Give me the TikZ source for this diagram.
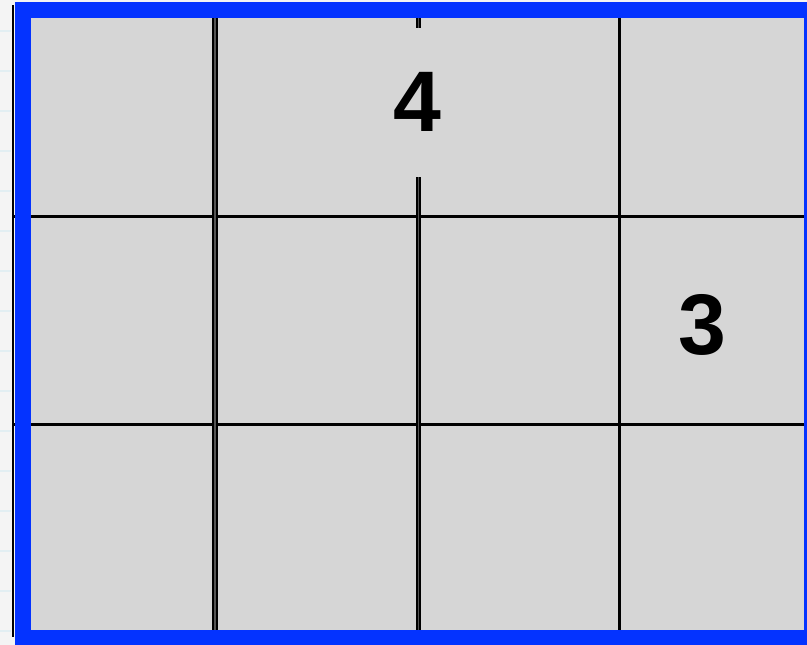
\documentclass[tikz,border=0pt]{standalone}
\usepackage{fontspec}
\setmainfont{Liberation Sans}
\definecolor{bg}{HTML}{F4F4F4}
\definecolor{cell}{HTML}{D6D6D6}
\definecolor{frame}{HTML}{0433FF}
\definecolor{faint}{HTML}{E2EEF2}
\definecolor{midgray}{HTML}{555555}
\begin{document}
\begin{tikzpicture}[x=1pt,y=-1pt,
  gridline/.style={black,line width=2.7pt},
  dblline/.style={black,line width=5.4pt},
  dblcore/.style={midgray,line width=1.1pt},
  num/.style={inner sep=0pt,font=\fontsize{86}{86}\selectfont\bfseries}]
\useasboundingbox (0,0) rectangle (807,645);
\clip (0,0) rectangle (807,645);
\fill[bg] (0,0) rectangle (807,645);
\foreach \k in {0,...,15} \draw[faint,line width=1.5pt] (0,31+40*\k) -- (11,31+40*\k);
\fill[cell] (23,9.5) rectangle (812,638);
\draw[black,line width=1.8pt] (13,5) -- (13,636.7);
% horizontal grid lines
\draw[gridline] (12,216.7) -- (807,216.7);
\draw[gridline] (12,424.2) -- (807,424.2);
% vertical grid lines
\draw[dblline] (215,10) -- (215,638);
\draw[dblcore] (215,10) -- (215,638);
\draw[dblline] (418.2,10) -- (418.2,28);
\draw[dblcore] (418.2,10) -- (418.2,28);
\draw[dblline] (418.2,177) -- (418.2,638);
\draw[dblcore] (418.2,177) -- (418.2,638);
\draw[gridline,line width=3pt] (619.2,10) -- (619.2,638);
% frame
\draw[frame,line width=16pt] (23,9.5) rectangle (812,638);
% numbers
\node[num] (four) at (417.5,102) {4};
\node[num] (three) at (702.7,325) {3};
\end{tikzpicture}
\end{document}
